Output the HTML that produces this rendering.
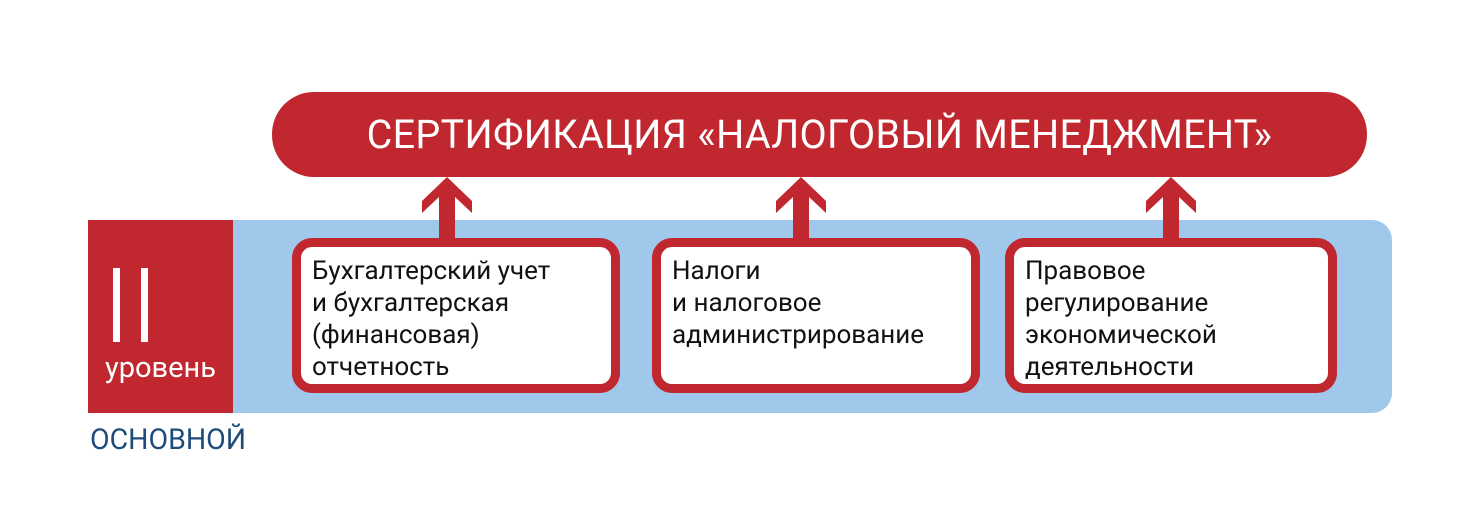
<!DOCTYPE html>
<html><head><meta charset="utf-8"><style>
body{margin:0;width:1479px;height:526px;background:#fff;position:relative;overflow:hidden;font-family:"Roboto","Liberation Sans","DejaVu Sans",sans-serif}
.a{position:absolute}
.pill{left:272px;top:92px;width:1095px;height:85px;background:#c1272f;border-radius:42px;color:#fff;font-size:39.5px;text-align:center;line-height:85px;letter-spacing:0.3px}
.band{left:88px;top:220px;width:1304px;height:193px;background:#9fc8ea;border-radius:0 20px 20px 0}
.lvl{left:88px;top:220px;width:145px;height:193px;background:#c1272f;color:#fff}
.box{top:238px;height:137px;width:310px;border:9px solid #c1272f;border-radius:20px;background:#fff;font-size:26px;line-height:32px;color:#111;padding:0}
.box div{padding:8px 0 0 11px}
</style></head><body>
<div class="a pill">СЕРТИФИКАЦИЯ «НАЛОГОВЫЙ МЕНЕДЖМЕНТ»</div>
<div class="a band"></div>
<div class="a lvl">
 <div class="a" style="left:25px;top:48px;width:7px;height:74px;background:#fff"></div>
 <div class="a" style="left:53px;top:48px;width:7px;height:74px;background:#fff"></div>
 <div class="a" style="left:0;width:145px;top:131px;text-align:center;font-size:29px">уровень</div>
</div>
<div class="a" style="left:90px;top:423px;font-size:28.5px;color:#1d4c7a">ОСНОВНОЙ</div>
<svg class="a" style="left:0;top:0" width="1479" height="526">
 <g fill="#c1272f">
  <polygon points="447,177 472,201 472,213 455,197 455,240 439,240 439,197 422,213 422,201"/>
  <polygon points="801,177 826,201 826,213 809,197 809,240 793,240 793,197 776,213 776,201"/>
  <polygon points="1171,177 1196,201 1196,213 1179,197 1179,240 1163,240 1163,197 1146,213 1146,201"/>
 </g>
</svg>
<div class="a box" style="left:292px"><div>Бухгалтерский учет<br>и бухгалтерская<br>(финансовая)<br>отчетность</div></div>
<div class="a box" style="left:652px"><div>Налоги<br>и налоговое<br>администрирование</div></div>
<div class="a box" style="left:1005px;width:314px"><div>Правовое<br>регулирование<br>экономической<br>деятельности</div></div>
</body></html>
